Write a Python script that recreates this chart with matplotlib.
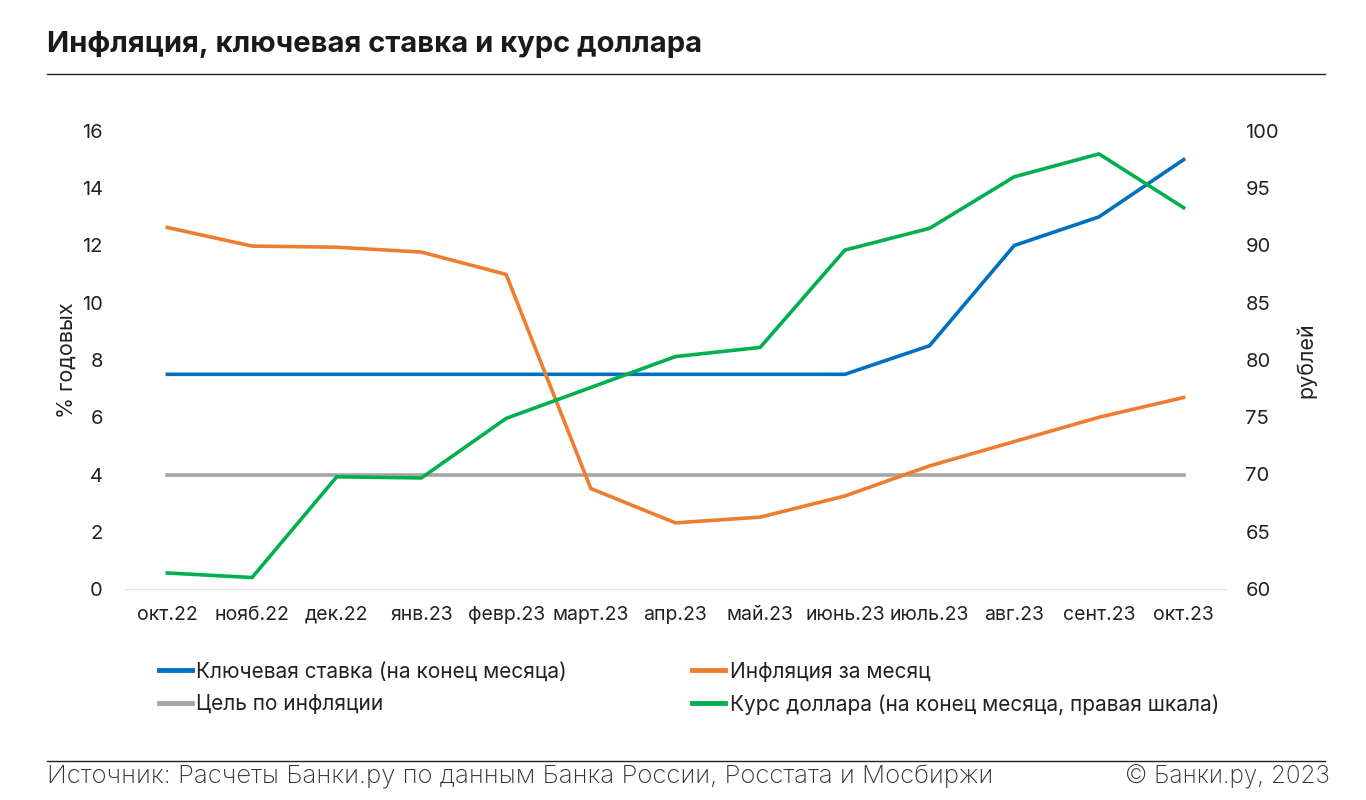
import matplotlib
matplotlib.use("Agg")
import matplotlib.pyplot as plt
from matplotlib.lines import Line2D

months = ["окт.22", "нояб.22", "дек.22", "янв.23", "февр.23", "март.23", "апр.23",
          "май.23", "июнь.23", "июль.23", "авг.23", "сент.23", "окт.23"]
key_rate = [7.5, 7.5, 7.5, 7.5, 7.5, 7.5, 7.5, 7.5, 7.5, 8.5, 12, 13, 15]
inflation = [12.63, 11.98, 11.94, 11.77, 10.99, 3.51, 2.31, 2.51, 3.25, 4.30, 5.15, 6.00, 6.69]
target = [4] * 13
usd = [61.4, 61.0, 69.8, 69.7, 74.9, 77.6, 80.3, 81.1, 89.6, 91.5, 96.0, 98.0, 93.3]

C_BLUE = "#0070C0"
C_ORANGE = "#ED7D31"
C_GRAY = "#A5A5A5"
C_GREEN = "#00B050"

plt.rcParams['font.family'] = ['Inter', 'DejaVu Sans']

fig = plt.figure(figsize=(13.66, 8), dpi=100)
W, H = 1366, 800
ax = fig.add_axes([125 / W, 1 - 589 / H, (1226 - 125) / W, (589 - 131) / H])
ax2 = ax.twinx()

x = list(range(len(months)))
lw = 2.6
ax.plot(x, key_rate, color=C_BLUE, lw=lw, zorder=3)
ax.plot(x, inflation, color=C_ORANGE, lw=lw, zorder=3)
ax.plot(x, target, color=C_GRAY, lw=lw, zorder=2)
ax2.plot(x, usd, color=C_GREEN, lw=lw, zorder=3)

ax.set_xlim(-0.5, len(months) - 0.5)
ax.set_ylim(0, 16)
ax.set_yticks(range(0, 17, 2))
ax2.set_ylim(60, 100)
ax2.set_yticks(range(60, 101, 5))
ax.set_xticks(x)
ax.set_xticklabels(months)

for a in (ax, ax2):
    for s in a.spines.values():
        s.set_visible(False)
    a.tick_params(length=0, labelsize=14.5, colors="#222222")
ax.spines['bottom'].set_visible(True)
ax.spines['bottom'].set_color("#E6E6E6")
ax.spines['bottom'].set_linewidth(1)
ax.tick_params(axis='x', pad=12, labelsize=14)
ax.tick_params(axis='y', pad=16)
ax2.tick_params(axis='y', pad=14)

ax.set_ylabel("% годовых", fontsize=15.5, color="#222222", labelpad=4)
ax2.set_ylabel("рублей", fontsize=15.5, color="#222222", labelpad=12, rotation=90)

handles = [Line2D([], [], color=C_BLUE, lw=3.5),
           Line2D([], [], color=C_GRAY, lw=3.5),
           Line2D([], [], color=C_ORANGE, lw=3.5),
           Line2D([], [], color=C_GREEN, lw=3.5)]
labels = ["Ключевая ставка (на конец месяца)", "Цель по инфляции",
          "Инфляция за месяц", "Курс доллара (на конец месяца, правая шкала)"]
fig.legend(handles, labels, ncol=2, loc="upper left",
           bbox_to_anchor=(140 / W, 1 - 643 / H), frameon=False,
           fontsize=15, handlelength=1.6, handletextpad=0.2,
           columnspacing=6.0, labelspacing=0.6, labelcolor="#222222")

fig.text(47 / W, 1 - 45 / H, "Инфляция, ключевая ставка и курс доллара",
         fontsize=21, fontweight="bold", color="#1a1a1a", va="center", ha="left")
fig.add_artist(Line2D([47 / W, 1325 / W], [1 - 74 / H, 1 - 74 / H], color="#222222", lw=1))
fig.add_artist(Line2D([47 / W, 1325 / W], [1 - 761 / H, 1 - 761 / H], color="#222222", lw=1))
fig.text(47 / W, 1 - 777 / H, "Источник: Расчеты Банки.ру по данным Банка России, Росстата и Мосбиржи",
         fontsize=18.5, fontweight="light", color="#333333", va="center", ha="left")
fig.text(1330 / W, 1 - 777 / H, "© Банки.ру, 2023",
         fontsize=17.5, fontweight="light", color="#333333", va="center", ha="right")

fig.savefig("out.png", dpi=100)
